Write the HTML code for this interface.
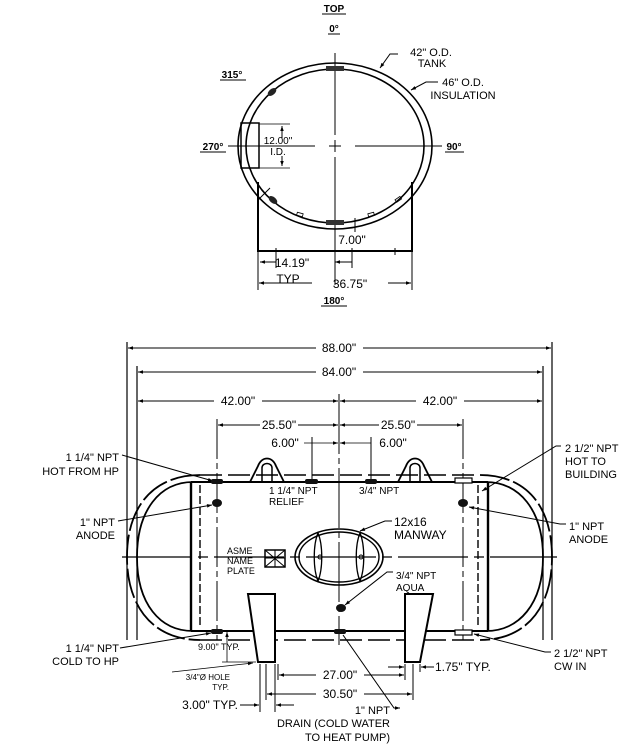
<!DOCTYPE html>
<html><head><meta charset="utf-8"><style>
html,body{margin:0;padding:0;background:#fff;}
svg{display:block;}
text{font-family:"Liberation Sans",Arial,sans-serif;fill:#000;}
</style></head><body>
<svg width="635" height="745" viewBox="0 0 635 745" xmlns="http://www.w3.org/2000/svg">
<defs>
<marker id="a" viewBox="0 0 10 10" refX="10" refY="5" markerWidth="7" markerHeight="5" orient="auto-start-reverse" markerUnits="userSpaceOnUse"><path d="M0,1.5 L10,5 L0,8.5 z" fill="#000"/></marker>
</defs>
<g font-size="11">
<g font-weight="bold" font-size="10">
<text x="334" y="12" text-anchor="middle">TOP</text><line x1="322" y1="14" x2="346" y2="14" stroke="#000"/>
<text x="334" y="32" text-anchor="middle">0°</text><line x1="328" y1="34" x2="340" y2="34" stroke="#000"/>
<text x="232" y="78" text-anchor="middle">315°</text><line x1="220" y1="80" x2="246" y2="80" stroke="#000"/>
<text x="213" y="150" text-anchor="middle">270°</text><line x1="200" y1="152" x2="226" y2="152" stroke="#000"/>
<text x="454" y="150" text-anchor="middle">90°</text><line x1="445" y1="152" x2="464" y2="152" stroke="#000"/>
<text x="334" y="304" text-anchor="middle">180°</text><line x1="321" y1="306" x2="347" y2="306" stroke="#000"/>
</g>
<g fill="none" stroke="#000">
<ellipse cx="335" cy="146" rx="97" ry="83" stroke-width="1.6"/>
<ellipse cx="335" cy="146" rx="89" ry="77" stroke-width="1.6"/>
<line x1="335" y1="53" x2="335" y2="135" stroke-width="1"/>
<line x1="335" y1="140" x2="335" y2="152"/>
<line x1="335" y1="157" x2="335" y2="285"/>
<line x1="228" y1="146" x2="315" y2="146"/>
<line x1="329" y1="146" x2="341" y2="146"/>
<line x1="355" y1="146" x2="442" y2="146"/>
<path d="M258,182 L258,251 L412,251 L412,182" stroke-width="2"/>
<rect x="241" y="123" width="18" height="45" stroke-width="1.5"/>
<line x1="259" y1="124" x2="290" y2="124" stroke-width=".8"/>
<line x1="259" y1="168" x2="290" y2="168" stroke-width=".8"/>
<line x1="282" y1="126" x2="282" y2="138" marker-start="url(#a)"/>
<line x1="282" y1="156" x2="282" y2="166" marker-end="url(#a)"/>
<line x1="355" y1="218" x2="355" y2="232"/>
<line x1="258" y1="251" x2="258" y2="290"/><line x1="412" y1="251" x2="412" y2="290"/>
<line x1="276" y1="248" x2="276" y2="268"/><line x1="352" y1="248" x2="352" y2="268"/><line x1="395" y1="248" x2="395" y2="255"/>
<line x1="260" y1="262" x2="276" y2="262" marker-start="url(#a)"/>
<line x1="335" y1="262" x2="352" y2="262" marker-start="url(#a)"/>
<line x1="259" y1="283" x2="312" y2="283" marker-start="url(#a)"/>
<line x1="388" y1="283" x2="411" y2="283" marker-end="url(#a)"/>
<polyline points="398,54 390,54 380,68" marker-end="url(#a)"/>
<polyline points="438,82 426,82 411,90" marker-end="url(#a)"/>
<line x1="258" y1="200" x2="270" y2="188"/>
</g>
<rect x="326" y="66" width="18" height="5" fill="#333"/>
<rect x="326" y="220" width="18" height="5" fill="#333"/>
<ellipse cx="272" cy="92" rx="5" ry="3" fill="#222" transform="rotate(-40 272 92)"/>
<ellipse cx="273" cy="200" rx="5" ry="3" fill="#222" transform="rotate(40 273 200)"/>
<g fill="none" stroke="#000" stroke-width=".8">
<rect x="297" y="213" width="6" height="3" transform="rotate(15 300 214)"/>
<rect x="368" y="213" width="6" height="3" transform="rotate(-15 371 214)"/>
<rect x="395" y="198" width="6" height="3" transform="rotate(-35 398 199)"/>
</g>
<text x="431" y="56" text-anchor="middle">42" O.D.</text>
<text x="432" y="67" text-anchor="middle">TANK</text>
<text x="463" y="86" text-anchor="middle">46" O.D.</text>
<text x="463" y="99" text-anchor="middle">INSULATION</text>
<text x="278" y="144" text-anchor="middle" font-size="10">12.00"</text>
<text x="278" y="155" text-anchor="middle" font-size="10">I.D.</text>
<text x="352" y="244" text-anchor="middle" font-size="12">7.00"</text>
<text x="292" y="267" text-anchor="middle" font-size="12">14.19"</text>
<text x="288" y="283" text-anchor="middle" font-size="12">TYP</text>
<text x="350" y="288" text-anchor="middle" font-size="12">36.75"</text>

<g fill="none" stroke="#000">
<line x1="127" y1="342" x2="127" y2="640" stroke-width="1.2"/>
<line x1="552" y1="342" x2="552" y2="640" stroke-width="1.2"/>
<line x1="137" y1="366" x2="137" y2="640" stroke-width="1.2"/>
<line x1="543" y1="366" x2="543" y2="640" stroke-width="1.2"/>
<line x1="128" y1="348" x2="316" y2="348" marker-start="url(#a)"/>
<line x1="363" y1="348" x2="551" y2="348" marker-end="url(#a)"/>
<line x1="138" y1="372" x2="316" y2="372" marker-start="url(#a)"/>
<line x1="363" y1="372" x2="542" y2="372" marker-end="url(#a)"/>
<line x1="138" y1="401" x2="214" y2="401" marker-start="url(#a)"/>
<line x1="262" y1="401" x2="338" y2="401" marker-end="url(#a)"/>
<line x1="340" y1="401" x2="416" y2="401" marker-start="url(#a)"/>
<line x1="464" y1="401" x2="542" y2="401" marker-end="url(#a)"/>
<line x1="339" y1="394" x2="339" y2="645" stroke-dasharray="60,4,6,4"/>
<line x1="217" y1="419" x2="217" y2="640" stroke-dasharray="40,4,6,4"/>
<line x1="463" y1="419" x2="463" y2="640" stroke-dasharray="40,4,6,4"/>
<line x1="218" y1="425" x2="260" y2="425" marker-start="url(#a)"/>
<line x1="298" y1="425" x2="338" y2="425" marker-end="url(#a)"/>
<line x1="340" y1="425" x2="379" y2="425" marker-start="url(#a)"/>
<line x1="417" y1="425" x2="462" y2="425" marker-end="url(#a)"/>
<line x1="312" y1="437" x2="312" y2="482"/>
<line x1="371" y1="437" x2="371" y2="482"/>
<line x1="304" y1="443" x2="338" y2="443" marker-end="url(#a)" stroke-width=".8"/>
<line x1="340" y1="443" x2="371" y2="443" marker-start="url(#a)" stroke-width=".8"/>
<line x1="191" y1="482" x2="488" y2="482" stroke-width="2"/>
<line x1="191" y1="631" x2="488" y2="631" stroke-width="2"/>
<line x1="191" y1="482" x2="191" y2="631" stroke-width="2.4"/>
<line x1="488" y1="482" x2="488" y2="631" stroke-width="2.4"/>
<line x1="200" y1="485" x2="200" y2="628" stroke-dasharray="8,3" stroke-width="1.4"/>
<line x1="478" y1="485" x2="478" y2="628" stroke-dasharray="8,3" stroke-width="1.4"/>
<path d="M193,482 C160,482 137,510 137,557 C137,604 160,631 193,631" stroke-width="1.8"/>
<path d="M200,475 C155,475 127,505 127,557 C127,609 155,640 200,640" stroke-width="1.8" stroke-dasharray="30,4"/>
<path d="M486,482 C519,482 543,510 543,557 C543,604 519,631 486,631" stroke-width="1.8"/>
<path d="M480,475 C525,475 552,505 552,557 C552,609 525,640 480,640" stroke-width="1.8" stroke-dasharray="30,4"/>
<line x1="200" y1="475" x2="480" y2="475" stroke-width="1.4" stroke-dasharray="22,6"/>
<line x1="200" y1="640" x2="480" y2="640" stroke-width="1.4" stroke-dasharray="22,6"/>
<line x1="122" y1="557" x2="557" y2="557" stroke-width="1.2" stroke-dasharray="70,6,10,6"/>
<path d="M250,482 L258,466 C262,456 272,456 276,466 L284,482" stroke-width="1.8"/>
<path d="M262,482 L262,468 C262,462 272,462 272,468 L272,482" stroke-width="1.5"/>
<path d="M398,482 L406,466 C410,456 420,456 424,466 L432,482" stroke-width="1.8"/>
<path d="M410,482 L410,468 C410,462 420,462 420,468 L420,482" stroke-width="1.5"/>
<ellipse cx="339" cy="557" rx="44" ry="28" stroke-width="1.6"/>
<ellipse cx="339" cy="557" rx="40" ry="25" stroke-width="1.4"/>
<path d="M318,533 C313,545 313,569 318,581 C323,569 323,545 318,533z" stroke-width="1.3"/>
<path d="M360,533 C355,545 355,569 360,581 C365,569 365,545 360,533z" stroke-width="1.3"/>
<circle cx="320" cy="557" r="2"/><circle cx="361" cy="557" r="2"/>
<path d="M248,594 L258,662 L275,662 L275,594 Z" stroke-width="2" fill="#fff"/>
<path d="M405,594 L405,662 L420,662 L433,594 Z" stroke-width="2" fill="#fff"/>
<rect x="265" y="550" width="20" height="17" stroke-width="1.5"/>
<path d="M265,550 L285,567 M285,550 L265,567 M275,550 L275,567 M265,558 L285,558" stroke-width="1"/>
<line x1="122" y1="455" x2="213" y2="481" marker-end="url(#a)"/>
<line x1="118" y1="521" x2="212" y2="505" marker-end="url(#a)"/>
<line x1="120" y1="648" x2="211" y2="633" marker-end="url(#a)"/>
<polyline points="561,446 556,446 482,491" marker-end="url(#a)"/>
<polyline points="566,524 560,524 469,507" marker-end="url(#a)"/>
<polyline points="551,652 545,652 474,634" marker-end="url(#a)"/>
<polyline points="392,521 385,521 360,531" marker-end="url(#a)"/>
<polyline points="393,572 387,572 345,605" marker-end="url(#a)"/>
<polyline points="400,708 394,708 343,635" marker-start="url(#a)"/>
<line x1="172" y1="672" x2="253" y2="663" stroke-width=".8" marker-end="url(#a)"/>
<line x1="227" y1="633" x2="227" y2="662" stroke-width=".8"/>
<line x1="227" y1="640" x2="227" y2="632" marker-end="url(#a)" stroke-width=".8"/>
<line x1="222" y1="662" x2="256" y2="662" stroke-width=".8"/>
<line x1="260" y1="664" x2="260" y2="712"/><line x1="266" y1="664" x2="266" y2="700"/>
<line x1="275" y1="664" x2="275" y2="712"/><line x1="278" y1="664" x2="278" y2="680"/>
<line x1="405" y1="664" x2="405" y2="680"/><line x1="413" y1="664" x2="413" y2="700"/><line x1="420" y1="664" x2="420" y2="672"/>
<line x1="279" y1="675" x2="316" y2="675" marker-start="url(#a)"/>
<line x1="364" y1="675" x2="404" y2="675" marker-end="url(#a)"/>
<line x1="267" y1="694" x2="316" y2="694" marker-start="url(#a)"/>
<line x1="364" y1="694" x2="412" y2="694" marker-end="url(#a)"/>
<line x1="240" y1="705" x2="259" y2="705" marker-end="url(#a)"/>
<line x1="294" y1="705" x2="276" y2="705" marker-end="url(#a)"/>
<line x1="388" y1="667" x2="404" y2="667" marker-end="url(#a)"/>
<line x1="434" y1="667" x2="421" y2="667" marker-end="url(#a)"/>
</g>
<g fill="#111">
<rect x="211" y="479" width="12" height="5" rx="2"/>
<rect x="211" y="629" width="12" height="5" rx="2"/>
<rect x="305" y="479" width="13" height="5" rx="2"/>
<rect x="365" y="479" width="12" height="5" rx="2"/>
<rect x="334" y="629" width="12" height="5" rx="2"/>
<ellipse cx="217" cy="503" rx="5" ry="4"/>
<ellipse cx="463" cy="503" rx="5" ry="4"/>
<ellipse cx="341" cy="608" rx="5" ry="4"/>
</g>
<rect x="455" y="478" width="17" height="5" fill="#fff" stroke="#000" stroke-width="1.2"/>
<rect x="455" y="630" width="17" height="5" fill="#fff" stroke="#000" stroke-width="1.2"/>

<g font-size="12">
<text x="339" y="352" text-anchor="middle">88.00"</text>
<text x="339" y="376" text-anchor="middle">84.00"</text>
<text x="238" y="405" text-anchor="middle">42.00"</text>
<text x="440" y="405" text-anchor="middle">42.00"</text>
<text x="279" y="429" text-anchor="middle">25.50"</text>
<text x="398" y="429" text-anchor="middle">25.50"</text>
<text x="285" y="447" text-anchor="middle">6.00"</text>
<text x="393" y="447" text-anchor="middle">6.00"</text>
<text x="340" y="679" text-anchor="middle">27.00"</text>
<text x="340" y="698" text-anchor="middle">30.50"</text>
<text x="238" y="709" text-anchor="end">3.00" TYP.</text>
<text x="435" y="671">1.75" TYP.</text>
</g>
<text x="119" y="461" text-anchor="end">1 1/4" NPT</text>
<text x="119" y="475" text-anchor="end">HOT FROM HP</text>
<text x="115" y="526" text-anchor="end">1" NPT</text>
<text x="115" y="539" text-anchor="end">ANODE</text>
<text x="119" y="652" text-anchor="end">1 1/4" NPT</text>
<text x="119" y="665" text-anchor="end">COLD TO HP</text>
<text x="565" y="452">2 1/2" NPT</text>
<text x="565" y="465">HOT TO</text>
<text x="565" y="478">BUILDING</text>
<text x="569" y="530">1" NPT</text>
<text x="569" y="543">ANODE</text>
<text x="554" y="657">2 1/2" NPT</text>
<text x="554" y="670">CW IN</text>
<text x="269" y="494" font-size="10">1 1/4" NPT</text>
<text x="269" y="505" font-size="10">RELIEF</text>
<text x="359" y="494" font-size="10">3/4" NPT</text>
<text x="394" y="526" font-size="12">12x16</text>
<text x="394" y="539" font-size="12">MANWAY</text>
<text x="227" y="554" font-size="9">ASME</text>
<text x="227" y="564" font-size="9">NAME</text>
<text x="227" y="574" font-size="9">PLATE</text>
<text x="396" y="579" font-size="10">3/4" NPT</text>
<text x="396" y="591" font-size="10">AQUA</text>
<text x="198" y="650" font-size="9">9.00" TYP.</text>
<text x="230" y="680" font-size="8" text-anchor="end">3/4"Ø HOLE</text>
<text x="229" y="690" font-size="8" text-anchor="end">TYP.</text>
<text x="390" y="714" text-anchor="end">1" NPT</text>
<text x="390" y="727" text-anchor="end">DRAIN (COLD WATER</text>
<text x="390" y="741" text-anchor="end">TO HEAT PUMP)</text>
</g>
</svg>
</body></html>
